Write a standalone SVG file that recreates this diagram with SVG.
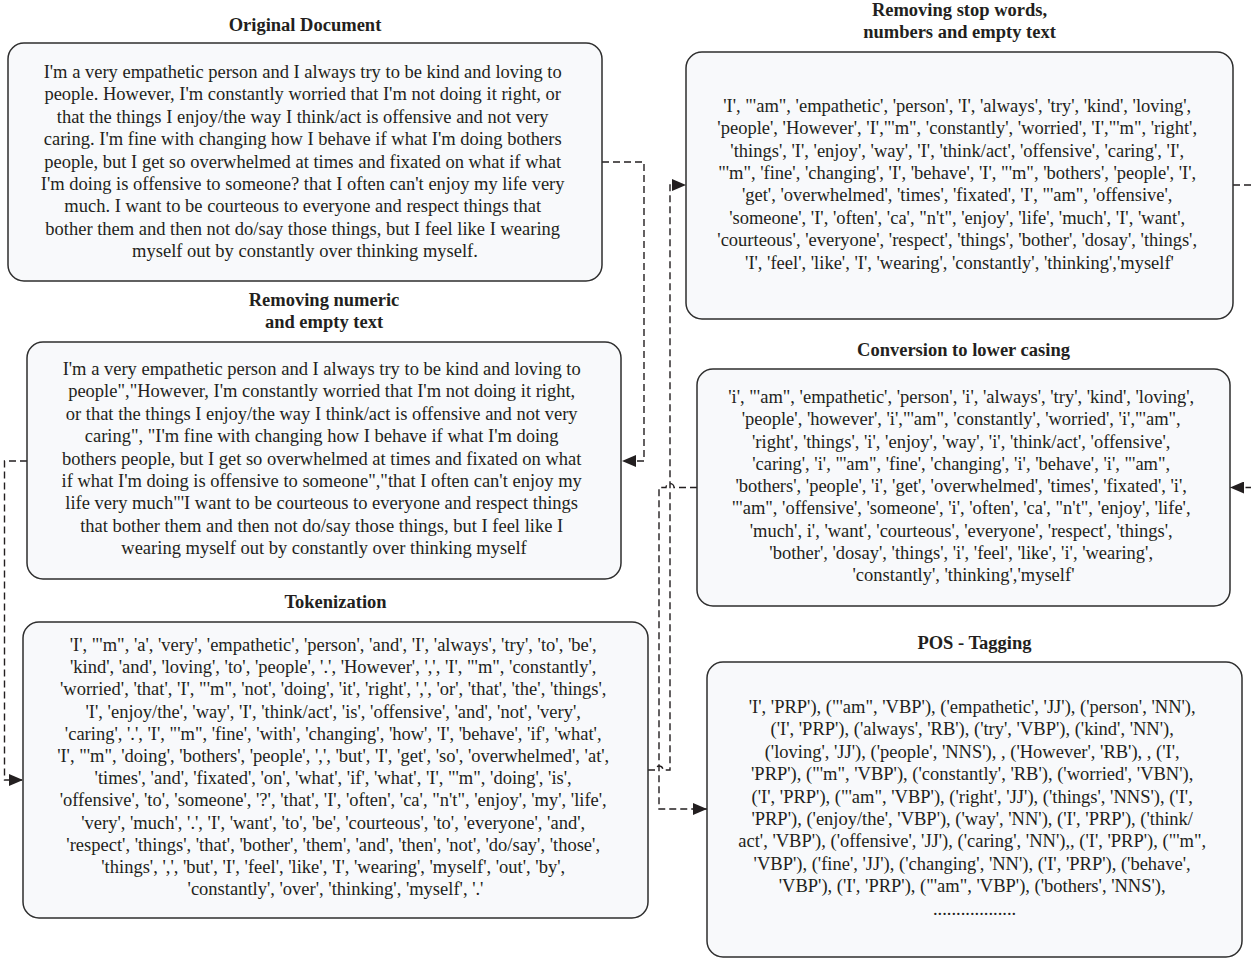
<svg xmlns="http://www.w3.org/2000/svg" width="1251" height="958" viewBox="0 0 1251 958">
<style>
.box{fill:#f8f9fb;stroke:#2e2e2e;stroke-width:1.5}
.t{font-family:"Liberation Serif","Times New Roman",serif;font-size:18.5px;fill:#231f20;text-anchor:middle}
.h{font-family:"Liberation Serif","Times New Roman",serif;font-size:18.5px;font-weight:bold;fill:#231f20;text-anchor:middle}
.c{fill:none;stroke:#231f20;stroke-width:1.4;stroke-dasharray:7 4}
</style>
<defs>
<marker id="arr" markerUnits="userSpaceOnUse" markerWidth="14" markerHeight="12" refX="14" refY="6" orient="auto">
<path d="M0,0 L14,6 L0,12 z" fill="#231f20"/>
</marker>
</defs>
<rect width="1251" height="958" fill="#ffffff"/>

<g id="connectors">
<path class="c" d="M602,162 H644 V461 H622" marker-end="url(#arr)"/>
<path class="c" d="M27,461 H4.5 V780 H23" marker-end="url(#arr)"/>
<path class="c" d="M648,770 H655 A4,4 0 0 1 663,770 H670 V185 H686" marker-end="url(#arr)"/>
<path class="c" d="M1233,185 H1262 V487.5 H1230" marker-end="url(#arr)"/>
<path class="c" d="M697,487.5 H674 A4,4 0 0 0 666,487.5 H659 V809 H707" marker-end="url(#arr)"/>
</g>

<g id="original">
<text class="h" x="305" y="31">Original Document</text>
<rect class="box" x="8" y="43" width="594" height="238" rx="16"/>
<text class="t">
<tspan x="305" y="78">I'm a very empathetic person and I always try to be kind and loving to</tspan>
<tspan x="305" y="100.4">people. However, I'm constantly worried that I'm not doing it right, or</tspan>
<tspan x="305" y="122.8">that the things I enjoy/the way I think/act is offensive and not very</tspan>
<tspan x="305" y="145.2">caring. I'm fine with changing how I behave if what I'm doing bothers</tspan>
<tspan x="305" y="167.6">people, but I get so overwhelmed at times and fixated on what if what</tspan>
<tspan x="305" y="190">I'm doing is offensive to someone? that I often can't enjoy my life very</tspan>
<tspan x="305" y="212.4">much. I want to be courteous to everyone and respect things that</tspan>
<tspan x="305" y="234.8">bother them and then not do/say those things, but I feel like I wearing</tspan>
<tspan x="305" y="257.2">myself out by constantly over thinking myself.</tspan>
</text>
</g>

<g id="remove-numeric">
<text class="h"><tspan x="324" y="306">Removing numeric</tspan><tspan x="324" y="328">and empty text</tspan></text>
<rect class="box" x="27" y="342" width="594" height="237" rx="16"/>
<text class="t">
<tspan x="324" y="375">I'm a very empathetic person and I always try to be kind and loving to</tspan>
<tspan x="324" y="397.4">people","However, I'm constantly worried that I'm not doing it right,</tspan>
<tspan x="324" y="419.8">or that the things I enjoy/the way I think/act is offensive and not very</tspan>
<tspan x="324" y="442.2">caring", "I'm fine with changing how I behave if what I'm doing</tspan>
<tspan x="324" y="464.6">bothers people, but I get so overwhelmed at times and fixated on what</tspan>
<tspan x="324" y="487">if what I'm doing is offensive to someone","that I often can't enjoy my</tspan>
<tspan x="324" y="509.4">life very much"'I want to be courteous to everyone and respect things</tspan>
<tspan x="324" y="531.8">that bother them and then not do/say those things, but I feel like I</tspan>
<tspan x="324" y="554.2">wearing myself out by constantly over thinking myself</tspan>
</text>
</g>

<g id="tokenization">
<text class="h" x="335.5" y="608">Tokenization</text>
<rect class="box" x="23" y="622" width="625" height="296" rx="16"/>
<text class="t">
<tspan x="335.5" y="651">'I', "'m", 'a', 'very', 'empathetic', 'person', 'and', 'I', 'always', 'try', 'to', 'be',</tspan>
<tspan x="335.5" y="673.2">'kind', 'and', 'loving', 'to', 'people', '.', 'However', ',', 'I', "'m", 'constantly',</tspan>
<tspan x="335.5" y="695.4">'worried', 'that', 'I', "'m", 'not', 'doing', 'it', 'right', ',', 'or', 'that', 'the', 'things',</tspan>
<tspan x="335.5" y="717.6">'I', 'enjoy/the', 'way', 'I', 'think/act', 'is', 'offensive', 'and', 'not', 'very',</tspan>
<tspan x="335.5" y="739.8">'caring', '.', 'I', "'m", 'fine', 'with', 'changing', 'how', 'I', 'behave', 'if', 'what',</tspan>
<tspan x="335.5" y="762">'I', "'m", 'doing', 'bothers', 'people', ',', 'but', 'I', 'get', 'so', 'overwhelmed', 'at',</tspan>
<tspan x="335.5" y="784.2">'times', 'and', 'fixated', 'on', 'what', 'if', 'what', 'I', "'m", 'doing', 'is',</tspan>
<tspan x="335.5" y="806.4">'offensive', 'to', 'someone', '?', 'that', 'I', 'often', 'ca', "n't", 'enjoy', 'my', 'life',</tspan>
<tspan x="335.5" y="828.6">'very', 'much', '.', 'I', 'want', 'to', 'be', 'courteous', 'to', 'everyone', 'and',</tspan>
<tspan x="335.5" y="850.8">'respect', 'things', 'that', 'bother', 'them', 'and', 'then', 'not', 'do/say', 'those',</tspan>
<tspan x="335.5" y="873">'things', ',', 'but', 'I', 'feel', 'like', 'I', 'wearing', 'myself', 'out', 'by',</tspan>
<tspan x="335.5" y="895.2">'constantly', 'over', 'thinking', 'myself', '.'</tspan>
</text>
</g>

<g id="stop-words">
<text class="h"><tspan x="959.5" y="16">Removing stop words,</tspan><tspan x="959.5" y="38">numbers and empty text</tspan></text>
<rect class="box" x="686" y="52" width="547" height="267" rx="16"/>
<text class="t">
<tspan x="959.5" y="111.7">'I', "'am", 'empathetic', 'person', 'I', 'always', 'try', 'kind', 'loving',</tspan>
<tspan x="959.5" y="134.1">'people', 'However', 'I',"'m", 'constantly', 'worried', 'I',"'m", 'right',</tspan>
<tspan x="959.5" y="156.5">'things', 'I', 'enjoy', 'way', 'I', 'think/act', 'offensive', 'caring', 'I',</tspan>
<tspan x="959.5" y="178.9">"'m", 'fine', 'changing', 'I', 'behave', 'I', "'m", 'bothers', 'people', 'I',</tspan>
<tspan x="959.5" y="201.3">'get', 'overwhelmed', 'times', 'fixated', 'I', "'am", 'offensive',</tspan>
<tspan x="959.5" y="223.7">'someone', 'I', 'often', 'ca', "n't", 'enjoy', 'life', 'much', 'I', 'want',</tspan>
<tspan x="959.5" y="246.1">'courteous', 'everyone', 'respect', 'things', 'bother', 'dosay', 'things',</tspan>
<tspan x="959.5" y="268.5">'I', 'feel', 'like', 'I', 'wearing', 'constantly', 'thinking','myself'</tspan>
</text>
</g>

<g id="lower-casing">
<text class="h" x="963.5" y="356">Conversion to lower casing</text>
<rect class="box" x="697" y="369" width="533" height="237" rx="16"/>
<text class="t">
<tspan x="963.5" y="403">'i', "'am", 'empathetic', 'person', 'i', 'always', 'try', 'kind', 'loving',</tspan>
<tspan x="963.5" y="425.25">'people', 'however', 'i',"'am", 'constantly', 'worried', 'i',"'am",</tspan>
<tspan x="963.5" y="447.5">'right', 'things', 'i', 'enjoy', 'way', 'i', 'think/act', 'offensive',</tspan>
<tspan x="963.5" y="469.75">'caring', 'i', "'am", 'fine', 'changing', 'i', 'behave', 'i', "'am",</tspan>
<tspan x="963.5" y="492">'bothers', 'people', 'i', 'get', 'overwhelmed', 'times', 'fixated', 'i',</tspan>
<tspan x="963.5" y="514.25">"'am", 'offensive', 'someone', 'i', 'often', 'ca', "n't", 'enjoy', 'life',</tspan>
<tspan x="963.5" y="536.5">'much', i', 'want', 'courteous', 'everyone', 'respect', 'things',</tspan>
<tspan x="963.5" y="558.75">'bother', 'dosay', 'things', 'i', 'feel', 'like', 'i', 'wearing',</tspan>
<tspan x="963.5" y="581">'constantly', 'thinking','myself'</tspan>
</text>
</g>

<g id="pos-tagging">
<text class="h" x="974.5" y="649">POS - Tagging</text>
<rect class="box" x="707" y="662" width="535" height="295" rx="16"/>
<text class="t">
<tspan x="974.5" y="713">'I', 'PRP'), ("'am", 'VBP'), ('empathetic', 'JJ'), ('person', 'NN'),</tspan>
<tspan x="974.5" y="735.4">('I', 'PRP'), ('always', 'RB'), ('try', 'VBP'), ('kind', 'NN'),</tspan>
<tspan x="974.5" y="757.8">('loving', 'JJ'), ('people', 'NNS'), , ('However', 'RB'), , ('I',</tspan>
<tspan x="974.5" y="780.2">'PRP'), ("'m", 'VBP'), ('constantly', 'RB'), ('worried', 'VBN'),</tspan>
<tspan x="974.5" y="802.6">('I', 'PRP'), ("'am", 'VBP'), ('right', 'JJ'), ('things', 'NNS'), ('I',</tspan>
<tspan x="974.5" y="825">'PRP'), ('enjoy/the', 'VBP'), ('way', 'NN'), ('I', 'PRP'), ('think/</tspan>
<tspan x="974.5" y="847.4">act', 'VBP'), ('offensive', 'JJ'), ('caring', 'NN'),, ('I', 'PRP'), ("'m",</tspan>
<tspan x="974.5" y="869.8">'VBP'), ('fine', 'JJ'), ('changing', 'NN'), ('I', 'PRP'), ('behave',</tspan>
<tspan x="974.5" y="892.2">'VBP'), ('I', 'PRP'), ("'am", 'VBP'), ('bothers', 'NNS'),</tspan>
<tspan x="974.5" y="914.6">..................</tspan>
</text>
</g>
</svg>
